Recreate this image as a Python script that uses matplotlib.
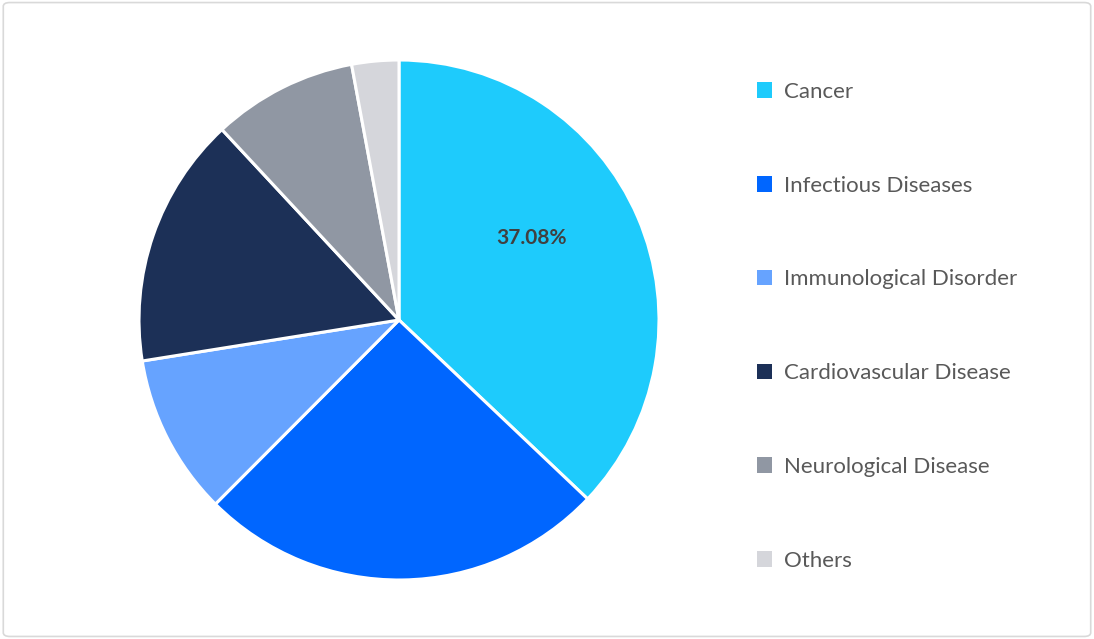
import matplotlib.pyplot as plt
from matplotlib.patches import FancyBboxPatch
import numpy as np

labels = ['Cancer', 'Infectious Diseases', 'Immunological Disorder',
          'Cardiovascular Disease', 'Neurological Disease', 'Others']
values = [37.08, 25.4, 10.0, 15.6, 9.0, 2.92]
colors = ['#1ECBFC', '#0066FF', '#66A3FF', '#1C3057', '#9097A3', '#D5D6DB']

plt.rcParams['font.family'] = ['Lato', 'DejaVu Sans']

fig = plt.figure(figsize=(10.94, 6.39), dpi=100)

# light frame round the whole chart
frame = FancyBboxPatch((0.003, 0.004), 0.994, 0.992, boxstyle='round,pad=0,rounding_size=0.006',
                       transform=fig.transFigure, facecolor='none', edgecolor='#D9D9D9', linewidth=1.2)
fig.patches.append(frame)

W, H = 1094, 639
cx, cy, r = 399, 320, 260
ax = fig.add_axes([(cx - r) / W, (H - cy - r) / H, 2 * r / W, 2 * r / H])

wedges, _ = ax.pie(values, colors=colors, startangle=90, counterclock=False,
                   wedgeprops=dict(edgecolor='white', linewidth=2.2))
ax.set_xlim(-1, 1)
ax.set_ylim(-1, 1)
ax.set_aspect('equal')
ax.axis('off')

# percentage label on the largest slice only
ang = np.deg2rad(31.7)
ax.text(0.6 * np.cos(ang), 0.6 * np.sin(ang), f'{values[0]:.2f}%', ha='center', va='center',
        fontsize=15, fontweight='bold', color='#404040')

leg = fig.legend(wedges, labels, loc='upper left', bbox_to_anchor=(748 / W, 1 - 73 / H),
                 frameon=False, fontsize=16, labelcolor='#595959', handlelength=0.7,
                 handleheight=0.7, handletextpad=0.5, labelspacing=3.32, borderaxespad=0)
for h in leg.legend_handles:
    h.set_linewidth(0)

fig.savefig('out.png', dpi=100)
